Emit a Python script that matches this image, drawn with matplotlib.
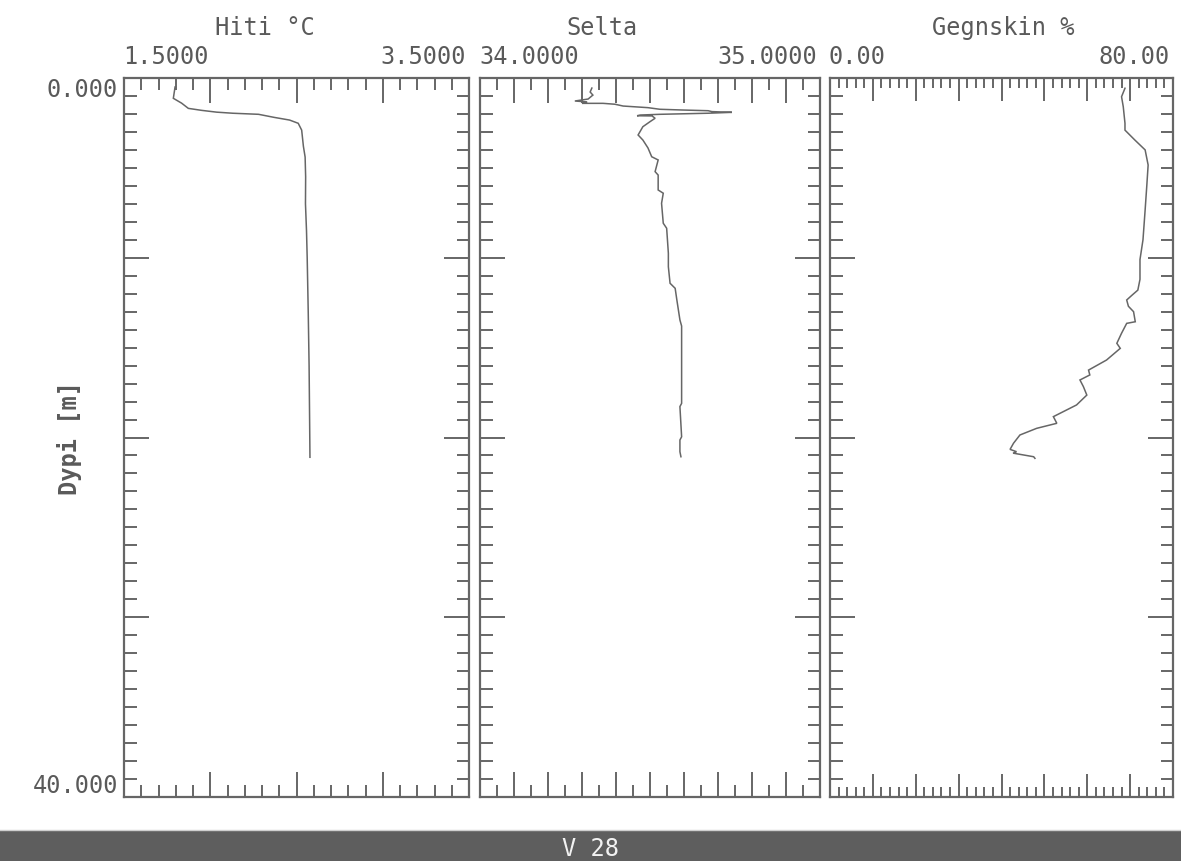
import matplotlib
matplotlib.use("Agg")
import matplotlib.pyplot as plt
from matplotlib.ticker import MultipleLocator
from matplotlib.patches import Rectangle
from matplotlib.lines import Line2D

# ---------------- data ----------------
temp_depth = [0.5, 1.13, 1.4, 1.69, 1.8, 1.9, 1.96, 2.02, 2.19, 2.34, 2.52, 2.9, 3.8,
              4.4, 5.5, 7.0, 8.5, 10.0, 13.0, 16.0, 19.0, 21.1]
temp_vals = [1.796, 1.786, 1.834, 1.873, 1.95, 2.037, 2.13, 2.28, 2.37, 2.46, 2.51, 2.53,
             2.54, 2.55, 2.553, 2.552, 2.558, 2.562, 2.568, 2.573, 2.576, 2.578]

sal_depth = [0.56, 0.78, 0.95, 1.17, 1.28, 1.33, 1.41, 1.41, 1.46, 1.56, 1.65, 1.74, 1.78,
             1.82, 1.87, 1.91, 1.96, 2.02, 2.06, 2.10, 2.11, 2.24, 2.43, 2.71, 3.17, 3.45,
             3.89, 4.38, 4.56, 5.21, 5.4, 6.23, 6.41, 6.97, 8.08, 8.36, 9.75, 10.5, 11.42,
             11.7, 12.35, 13.46, 13.8, 15.69, 18.1, 18.28, 19.96, 20.14, 20.79, 21.07]
sal_vals = [34.329, 34.324, 34.332, 34.318, 34.279, 34.315, 34.30, 34.362, 34.397, 34.421,
            34.494, 34.529, 34.594, 34.671, 34.682, 34.741, 34.671, 34.529, 34.471, 34.462,
            34.506, 34.515, 34.500, 34.479, 34.465, 34.479, 34.494, 34.505, 34.524, 34.515,
            34.524, 34.524, 34.539, 34.534, 34.539, 34.549, 34.554, 34.554, 34.559, 34.574,
            34.579, 34.588, 34.593, 34.593, 34.593, 34.588, 34.593, 34.588, 34.588, 34.591]

geg_depth = [0.57, 1.04, 1.6, 2.52, 2.9, 3.45, 4.0, 4.84, 5.95, 7.34, 9.0, 10.1, 11.2, 11.8,
             12.07, 12.35, 12.7, 13.0, 13.56, 13.65, 14.2, 14.76, 15.04, 15.69, 16.25, 16.52,
             16.8, 17.17, 17.64, 18.19, 18.84, 19.21, 19.49, 19.86, 20.32, 20.66, 20.79,
             20.87, 20.97, 21.07, 21.16]
geg_vals = [68.8, 68.0, 68.4, 68.8, 68.8, 71.1, 73.5, 74.2, 73.9, 73.5, 73.0, 72.3, 72.3,
            71.8, 70.5, 69.2, 69.6, 70.8, 71.2, 69.2, 68.0, 66.9, 67.7, 64.5, 60.3, 60.6,
            58.3, 59.1, 59.9, 57.5, 52.1, 52.9, 48.2, 44.3, 42.8, 42.0, 43.5, 42.7, 45.1,
            47.5, 47.8]

titles = ["Hiti °C", "Selta", "Gegnskin %"]
xmins = [1.5, 34.0, 0.0]
xmaxs = [3.5, 35.0, 80.0]
xmin_labels = ["1.5000", "34.0000", "0.00"]
xmax_labels = ["3.5000", "35.0000", "80.00"]
depth_min, depth_max = 0.0, 40.0
depth_labels = ["0.000", "40.000"]
ylabel = "Dypi [m]"
station = "V 28"

# ---------------- styling ----------------
W, H, DPI = 1181, 861, 100
GRAY = "#666666"
TXT = "#5a5a5a"
FONT = "DejaVu Sans Mono"
FS = 17

fig = plt.figure(figsize=(W / DPI, H / DPI), dpi=DPI)
fig.patch.set_facecolor("white")

def frac_x(px):
    return px / W

def frac_y(py):
    return 1 - py / H

top_px, bot_px = 78, 797
panels_px = [(124, 469), (480, 820), (830, 1173)]
major_x = [0.5, 0.1, 10]
minor_x = [0.1, 0.05, 2]
minor_len = [8.6, 8.6, 7.2]
major_len = [18, 18, 16.5]
title_cx = [265, 602, 1003]

series = [(temp_vals, temp_depth), (sal_vals, sal_depth), (geg_vals, geg_depth)]

for i, (l, r) in enumerate(panels_px):
    ax = fig.add_axes([frac_x(l), frac_y(bot_px), frac_x(r - l), (bot_px - top_px) / H])
    xv, dv = series[i]
    ax.plot(xv, dv, color=GRAY, lw=1.1, solid_joinstyle="miter")
    ax.set_xlim(xmins[i], xmaxs[i])
    ax.set_ylim(depth_max, depth_min)
    ax.xaxis.set_major_locator(MultipleLocator(major_x[i]))
    ax.xaxis.set_minor_locator(MultipleLocator(minor_x[i]))
    ax.yaxis.set_major_locator(MultipleLocator(10))
    ax.yaxis.set_minor_locator(MultipleLocator(1))
    ax.tick_params(which="both", direction="in", top=True, bottom=True, left=True, right=True,
                   labelleft=False, labelbottom=False, labeltop=False, labelright=False,
                   color=GRAY, width=1.4)
    ax.tick_params(which="major", length=major_len[i])
    ax.tick_params(which="minor", length=minor_len[i])
    ax.tick_params(axis="y", which="major", length=18)
    ax.tick_params(axis="y", which="minor", length=9)
    for s in ax.spines.values():
        s.set_color(GRAY)
        s.set_linewidth(1.6)

    # x range labels
    fig.text(frac_x(l - 1), frac_y(57), xmin_labels[i], ha="left", va="center",
             fontsize=FS, family=FONT, color=TXT)
    fig.text(frac_x(r - 3), frac_y(57), xmax_labels[i], ha="right", va="center",
             fontsize=FS, family=FONT, color=TXT)
    fig.text(frac_x(title_cx[i]), frac_y(28), titles[i], ha="center", va="center",
             fontsize=FS, family=FONT, color=TXT)

# depth labels
fig.text(frac_x(118), frac_y(90), depth_labels[0], ha="right", va="center",
         fontsize=FS, family=FONT, color=TXT)
fig.text(frac_x(118), frac_y(786), depth_labels[1], ha="right", va="center",
         fontsize=FS, family=FONT, color=TXT)
fig.text(frac_x(70), frac_y(438), ylabel, ha="center", va="center", rotation=90,
         fontsize=FS, family=FONT, color=TXT, fontweight="bold")

# bottom bar
fig.patches.append(Rectangle((0, 0), 1, frac_y(830), transform=fig.transFigure,
                             facecolor="#5e5e5e", edgecolor="none", zorder=0))
fig.lines.append(Line2D([0, 1], [frac_y(830), frac_y(830)], transform=fig.transFigure,
                        color="#cfcfcf", lw=1))
fig.text(frac_x(591), frac_y(849), station, ha="center", va="center",
         fontsize=FS, family=FONT, color="#f2f2f2")

fig.savefig("out.png", dpi=DPI, facecolor="white")
